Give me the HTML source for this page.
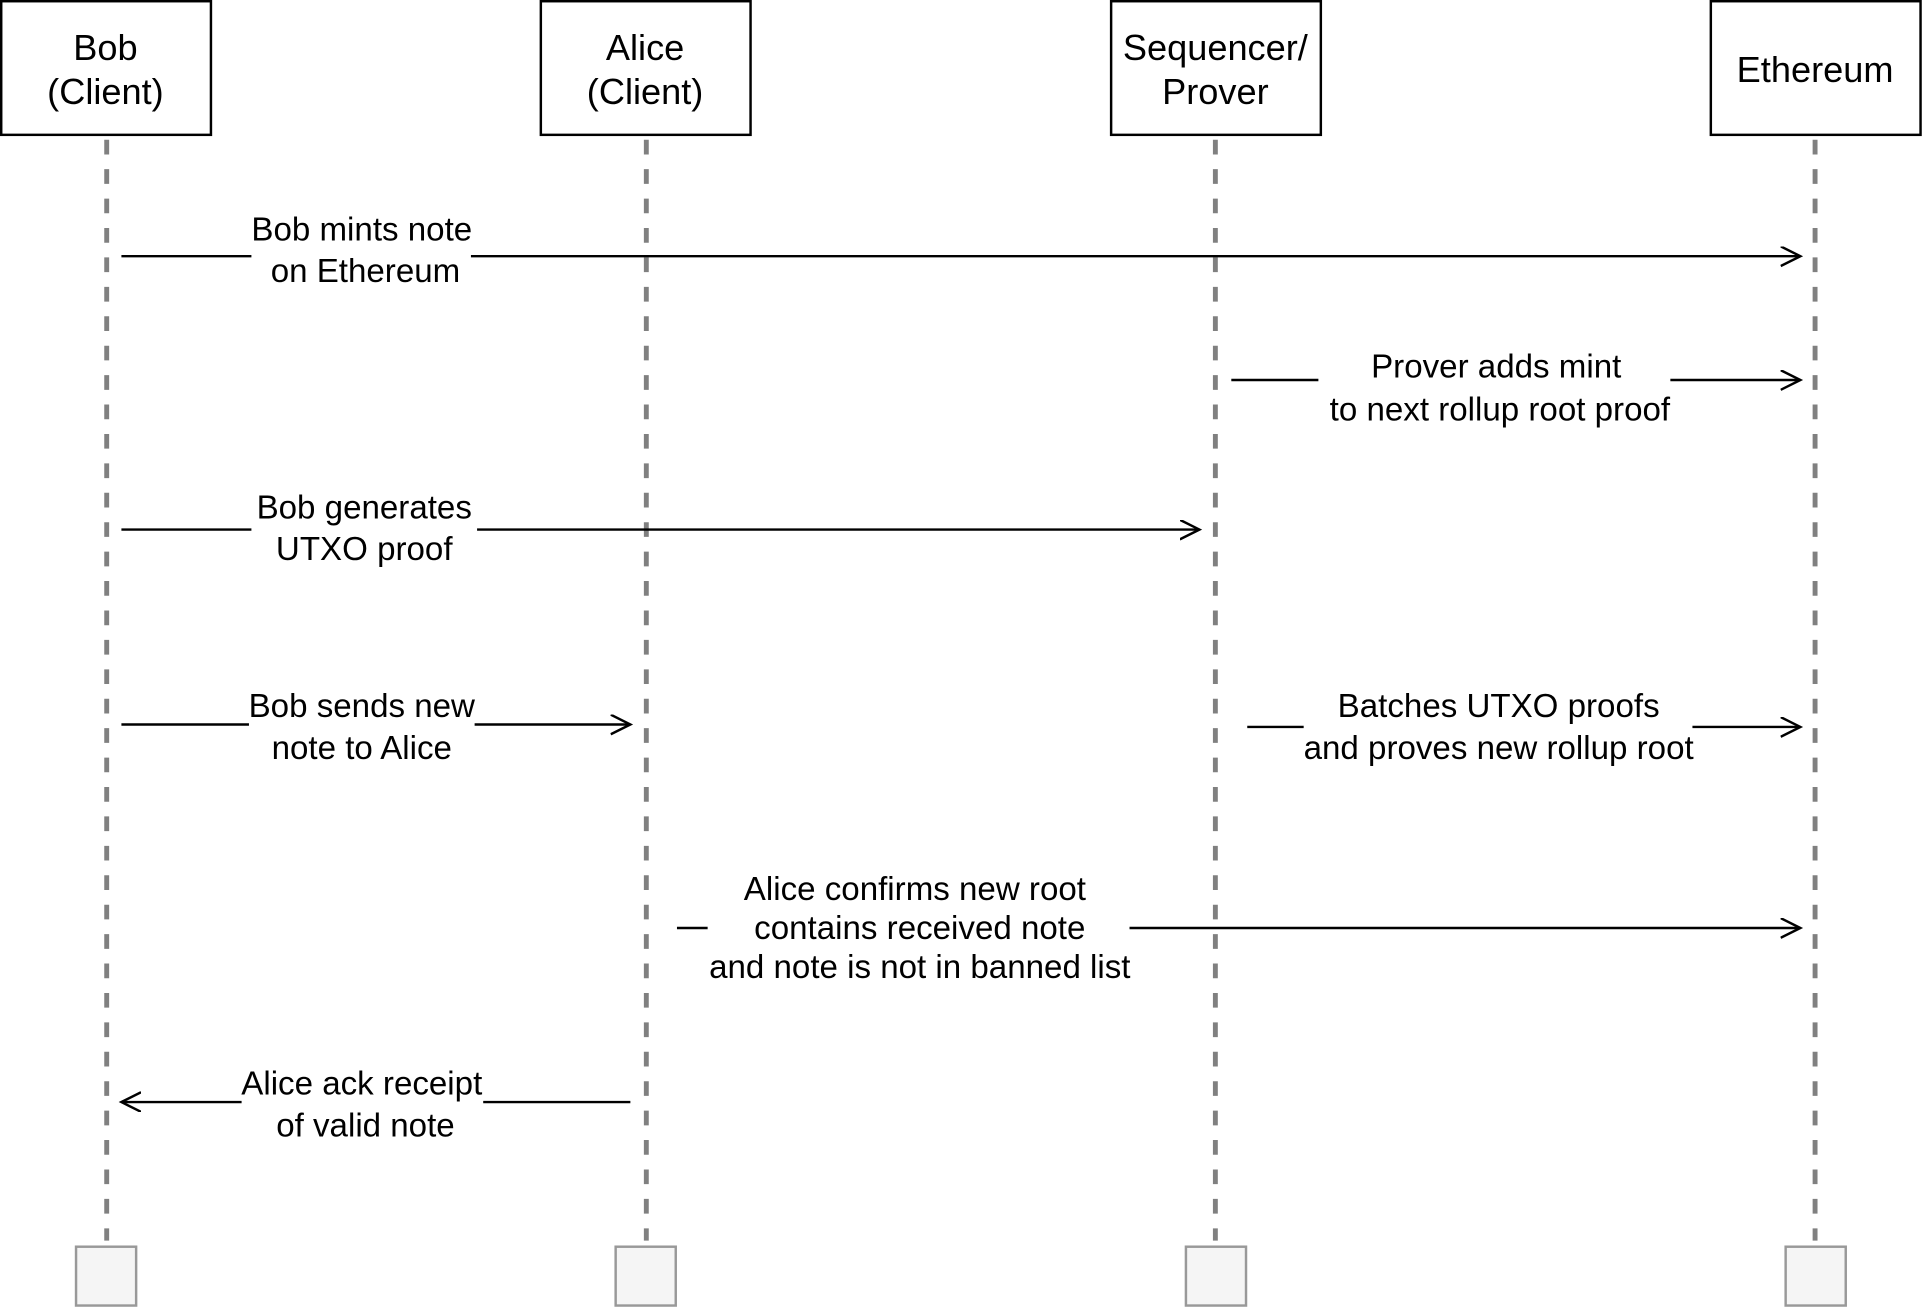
<!DOCTYPE html>
<html><head><style>html,body{margin:0;padding:0;background:#fff}</style></head><body>
<svg width="1923" height="1308" viewBox="0 0 1568 1067" preserveAspectRatio="none" xmlns="http://www.w3.org/2000/svg" font-family="Liberation Sans, Arial, sans-serif" font-size="27" text-anchor="middle">
<defs><marker id="a" markerWidth="20" markerHeight="20" refX="16" refY="8" orient="auto" markerUnits="userSpaceOnUse"><path d="M0,0 L16,8 L0,16" fill="none" stroke="#000" stroke-width="2"/></marker></defs>
<g stroke="#808080" stroke-width="4" stroke-dasharray="12,12">
<line x1="87" y1="114" x2="87" y2="1012"/><line x1="527" y1="114" x2="527" y2="1012"/><line x1="991" y1="114" x2="991" y2="1012"/><line x1="1480" y1="114" x2="1480" y2="1012"/>
</g>
<g fill="#fff" stroke="#000" stroke-width="2">
<rect x="1" y="1" width="171" height="109"/><rect x="441" y="1" width="171" height="109"/><rect x="906" y="1" width="171" height="109"/><rect x="1395" y="1" width="171" height="109"/>
</g>
<g fill="#f5f5f5" stroke="#999" stroke-width="2">
<rect x="62" y="1017" width="49" height="48"/><rect x="502" y="1017" width="49" height="48"/><rect x="967" y="1017" width="49" height="48"/><rect x="1456" y="1017" width="49" height="48"/>
</g>
<g font-size="29.5">
<text x="86" y="49">Bob</text><text x="86" y="85">(Client)</text>
<text x="526" y="49">Alice</text><text x="526" y="85">(Client)</text>
<text x="991" y="49">Sequencer/</text><text x="991" y="85">Prover</text>
<text x="1480" y="67">Ethereum</text>
</g>
<g stroke="#000" stroke-width="2" fill="none">
<path d="M99,209H205M384,209H1468" marker-end="url(#a)"/>
<path d="M1004,310H1075M1362,310H1468" marker-end="url(#a)"/>
<path d="M99,432H205M389,432H978" marker-end="url(#a)"/>
<path d="M99,591H203M387,591H514" marker-end="url(#a)"/>
<path d="M1017,593H1063M1380,593H1468" marker-end="url(#a)"/>
<path d="M552,757H577M921,757H1468" marker-end="url(#a)"/>
<path d="M514,899H394M197,899H99" marker-end="url(#a)"/>
</g>
<text x="295" y="196">Bob mints note</text><text x="298" y="230">on Ethereum</text>
<text x="1220" y="308">Prover adds mint</text><text x="1223" y="343">to next rollup root proof</text>
<text x="297" y="423">Bob  generates</text><text x="297" y="457">UTXO proof</text>
<text x="295" y="585">Bob sends new</text><text x="295" y="619">note to Alice</text>
<text x="1222" y="585">Batches UTXO proofs</text><text x="1222" y="619">and proves new rollup root</text>
<text x="746" y="734">Alice confirms new root</text><text x="750" y="766">contains received note</text><text x="750" y="798">and note is not in banned list</text>
<text x="295" y="893">Alice ack receipt</text><text x="298" y="927">of valid note</text>
</svg>
</body></html>
